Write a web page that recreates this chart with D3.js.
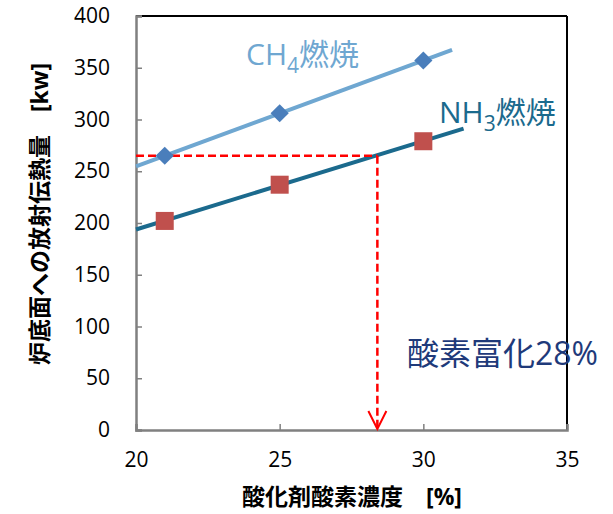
<!DOCTYPE html>
<html>
<head>
<meta charset="utf-8">
<script src="https://cdn.jsdelivr.net/npm/d3@7"></script>
<style>
  body { margin: 0; background: #fff; }
  text { font-family: "Open Sans", "Noto Sans CJK JP", sans-serif; }
</style>
</head>
<body>
<script>
var oxygen = [21, 25, 30]
var ch4Heat = [265, 306, 357]
var nh3Heat = [202, 237, 279]
var xTicks = [20, 25, 30, 35]
var yTicks = [0, 50, 100, 150, 200, 250, 300, 350, 400]
var enriched = 28.4
var target = 265

var svg = d3.select(document.body).append('svg')
  .attr('width', 613).attr('height', 514)

var x = d3.scaleLinear().domain([20, 35]).range([136, 567])
var y = d3.scaleLinear().domain([0, 400]).range([430, 16])

// least squares trend line
function fit (xs, ys) {
  var mx = d3.mean(xs), my = d3.mean(ys)
  var sxy = d3.sum(xs, function (v, i) { return (v - mx) * (ys[i] - my) })
  var sxx = d3.sum(xs, function (v) { return (v - mx) * (v - mx) })
  var b = sxy / sxx
  return function (v) { return my + b * (v - mx) }
}

// frame
svg.append('line').attr('x1', x(20)).attr('x2', x(35)).attr('y1', y(400)).attr('y2', y(400))
  .attr('stroke', '#000').attr('stroke-width', 2)
svg.append('line').attr('x1', x(35)).attr('x2', x(35)).attr('y1', y(400)).attr('y2', y(0))
  .attr('stroke', '#000').attr('stroke-width', 2)

var yAxis = svg.append('g').attr('transform', 'translate(' + x(20) + ',0)')
  .call(d3.axisLeft(y).tickValues(yTicks).tickSize(-6).tickPadding(26))
var xAxis = svg.append('g').attr('transform', 'translate(0,' + y(0) + ')')
  .call(d3.axisBottom(x).tickValues(xTicks).tickSize(-6).tickPadding(22))
;[yAxis, xAxis].forEach(function (a) {
  a.select('.domain').attr('stroke', '#808080').attr('stroke-width', 2.5)
  a.selectAll('.tick line').attr('stroke', '#808080').attr('stroke-width', 1.5)
  a.selectAll('.tick text').attr('font-size', 21).attr('fill', '#000')
})

// trend lines
var ch4Fit = fit(oxygen, ch4Heat)
var nh3Fit = fit(oxygen, nh3Heat)
svg.append('line')
  .attr('x1', x(20)).attr('y1', y(ch4Fit(20)))
  .attr('x2', x(31)).attr('y2', y(ch4Fit(31)))
  .attr('stroke', '#6fa7d1').attr('stroke-width', 4)
svg.append('line')
  .attr('x1', x(20)).attr('y1', y(nh3Fit(20)))
  .attr('x2', x(31.4)).attr('y2', y(nh3Fit(31.4)))
  .attr('stroke', '#1b6a8d').attr('stroke-width', 4)

// red guide lines
svg.append('line')
  .attr('x1', x(20)).attr('x2', x(enriched)).attr('y1', y(target)).attr('y2', y(target))
  .attr('stroke', '#ff0000').attr('stroke-width', 2.5).attr('stroke-dasharray', '8,4')
svg.append('line')
  .attr('x1', x(enriched)).attr('x2', x(enriched)).attr('y1', y(target)).attr('y2', y(1))
  .attr('stroke', '#ff0000').attr('stroke-width', 2.5).attr('stroke-dasharray', '8,4')
svg.append('path')
  .attr('d', 'M' + (x(enriched) - 9) + ',' + (y(1) - 18) + 'L' + x(enriched) + ',' + y(1) + 'L' + (x(enriched) + 9) + ',' + (y(1) - 18))
  .attr('fill', 'none').attr('stroke', '#ff0000').attr('stroke-width', 2)

// markers
svg.selectAll('rect.nh3').data(oxygen).enter().append('rect')
  .attr('class', 'nh3')
  .attr('x', function (d) { return x(d) - 9 })
  .attr('y', function (d, i) { return y(nh3Heat[i]) - 9 })
  .attr('width', 18).attr('height', 18)
  .attr('fill', '#c0504d')
svg.selectAll('path.ch4').data(oxygen).enter().append('path')
  .attr('class', 'ch4')
  .attr('d', d3.symbol(d3.symbolSquare, 165))
  .attr('transform', function (d, i) { return 'translate(' + x(d) + ',' + y(ch4Heat[i]) + ') rotate(45)' })
  .attr('fill', '#4a7ebb')

// labels
var ch4Label = svg.append('text').attr('x', 246).attr('y', 65)
  .attr('font-size', 30).attr('fill', '#6fa7d1')
ch4Label.append('tspan').text('CH')
ch4Label.append('tspan').attr('font-size', 21).attr('dy', 8).text('4')
ch4Label.append('tspan').attr('dy', -8).text('燃焼')

var nh3Label = svg.append('text').attr('x', 439).attr('y', 123)
  .attr('font-size', 30).attr('fill', '#1b6a8d')
nh3Label.append('tspan').text('NH')
nh3Label.append('tspan').attr('font-size', 21).attr('dy', 8).text('3')
nh3Label.append('tspan').attr('dy', -8).text('燃焼')

svg.append('text').attr('x', 407).attr('y', 365)
  .attr('font-size', 32).attr('fill', '#1f3a7a')
  .text('酸素富化28%')

svg.append('text').attr('x', 352).attr('y', 505).attr('text-anchor', 'middle')
  .attr('font-size', 23).attr('font-weight', 'bold')
  .text('酸化剤酸素濃度\u3000[%]')

svg.append('text').attr('transform', 'translate(48,214) rotate(-90)').attr('text-anchor', 'middle')
  .attr('font-size', 23).attr('font-weight', 'bold')
  .text('炉底面への放射伝熱量\u3000[kw]')
</script>
</body>
</html>
